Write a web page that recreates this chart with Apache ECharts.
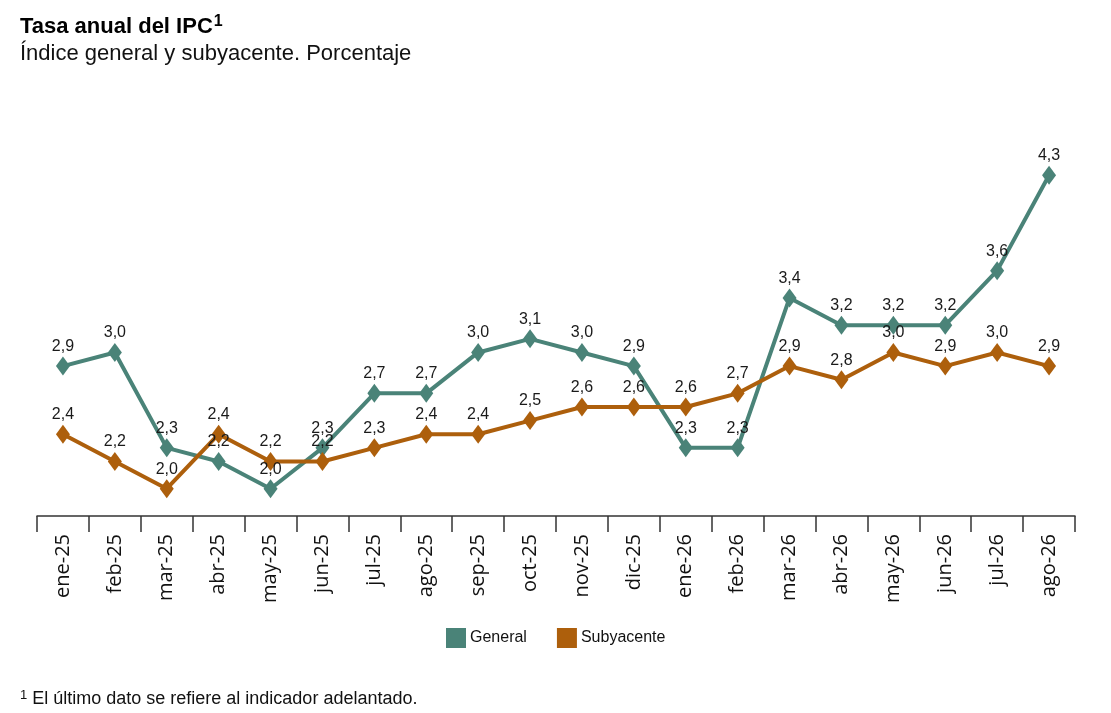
<!DOCTYPE html>
<html>
<head>
<meta charset="utf-8">
<title>Tasa anual del IPC</title>
<script src="https://cdn.jsdelivr.net/npm/echarts@6/dist/echarts.min.js"></script>
<style>
  html, body { margin: 0; padding: 0; background: #fff; }
  #chart { width: 1111px; height: 713px; }
</style>
</head>
<body>
<div id="chart"></div>
<script>
// Data
const months = ['ene-25', 'feb-25', 'mar-25', 'abr-25', 'may-25', 'jun-25', 'jul-25', 'ago-25', 'sep-25', 'oct-25',
    'nov-25', 'dic-25', 'ene-26', 'feb-26', 'mar-26', 'abr-26', 'may-26', 'jun-26', 'jul-26', 'ago-26'];
const general = [2.9, 3.0, 2.3, 2.2, 2.0, 2.3, 2.7, 2.7, 3.0, 3.1, 3.0, 2.9, 2.3, 2.3, 3.4, 3.2, 3.2, 3.2, 3.6, 4.3];
const subyacente = [2.4, 2.2, 2.0, 2.4, 2.2, 2.2, 2.3, 2.4, 2.4, 2.5, 2.6, 2.6, 2.6, 2.7, 2.9, 2.8, 3.0, 2.9, 3.0, 2.9];

const COLOR_GENERAL = '#4a8378';
const COLOR_SUBY = '#ad5f0c';
const FONT = '"Liberation Sans", Arial, sans-serif';

// Spanish decimal comma
const fmt = (p) => p.value.toFixed(1).replace('.', ',');

function lineSeries(name, data, color) {
    return {
        name,
        type: 'line',
        data,
        symbol: 'diamond',
        symbolSize: [14, 19],
        lineStyle: {color, width: 4},
        itemStyle: {color},
        label: {
            show: true,
            position: 'top',
            distance: 2,
            formatter: fmt,
            color: '#1a1a1a',
            fontFamily: FONT,
            fontSize: 16
        },
        emphasis: {disabled: true},
        animation: false
    };
}

const chart = echarts.init(document.getElementById('chart'));
chart.setOption({
    backgroundColor: '#fff',
    title: [
        {
            text: '{a|Tasa anual del IPC}{b|1}',
            left: 20,
            top: 14,
            padding: 0,
            textStyle: {
                rich: {
                    a: {fontFamily: FONT, fontSize: 22, fontWeight: 'bold', color: '#000'},
                    b: {fontFamily: FONT, fontSize: 16, fontWeight: 'bold', color: '#000', verticalAlign: 'top', padding: [0, 0, 10, 1]}
                }
            }
        },
        {
            text: 'Índice general y subyacente. Porcentaje',
            left: 20,
            top: 43,
            padding: 0,
            textStyle: {fontFamily: FONT, fontSize: 22, fontWeight: 'normal', color: '#111'}
        },
        {
            text: '{s|1} El último dato se refiere al indicador adelantado.',
            left: 20,
            top: 689,
            padding: 0,
            textStyle: {
                fontFamily: FONT, fontSize: 18, fontWeight: 'normal', color: '#111',
                rich: {
                    s: {fontFamily: FONT, fontSize: 13, color: '#111', verticalAlign: 'top', padding: [0, 0, 7, 0]}
                }
            }
        }
    ],
    legend: {
        data: ['General', 'Subyacente'],
        left: 441,
        top: 623,
        icon: 'rect',
        itemWidth: 20,
        itemHeight: 20,
        itemGap: 30,
        textStyle: {fontFamily: FONT, fontSize: 16, color: '#111', padding: [0, 0, 0, -1]}
    },
    grid: {left: 37, right: 36, top: 148, bottom: 197},
    xAxis: {
        type: 'category',
        data: months,
        boundaryGap: true,
        axisLine: {lineStyle: {color: '#333', width: 1.5}},
        axisTick: {show: true, length: 16, lineStyle: {color: '#333', width: 1.5}},
        axisLabel: {
            rotate: 90,
            margin: 18,
            fontFamily: '"Open Sans", "Noto Sans", sans-serif',
            fontSize: 20,
            color: '#111',
            interval: 0
        }
    },
    yAxis: {
        type: 'value',
        min: 1.8,
        max: 4.5,
        show: false,
        splitLine: {show: false}
    },
    series: [
        lineSeries('General', general, COLOR_GENERAL),
        lineSeries('Subyacente', subyacente, COLOR_SUBY)
    ]
});
</script>
</body>
</html>
